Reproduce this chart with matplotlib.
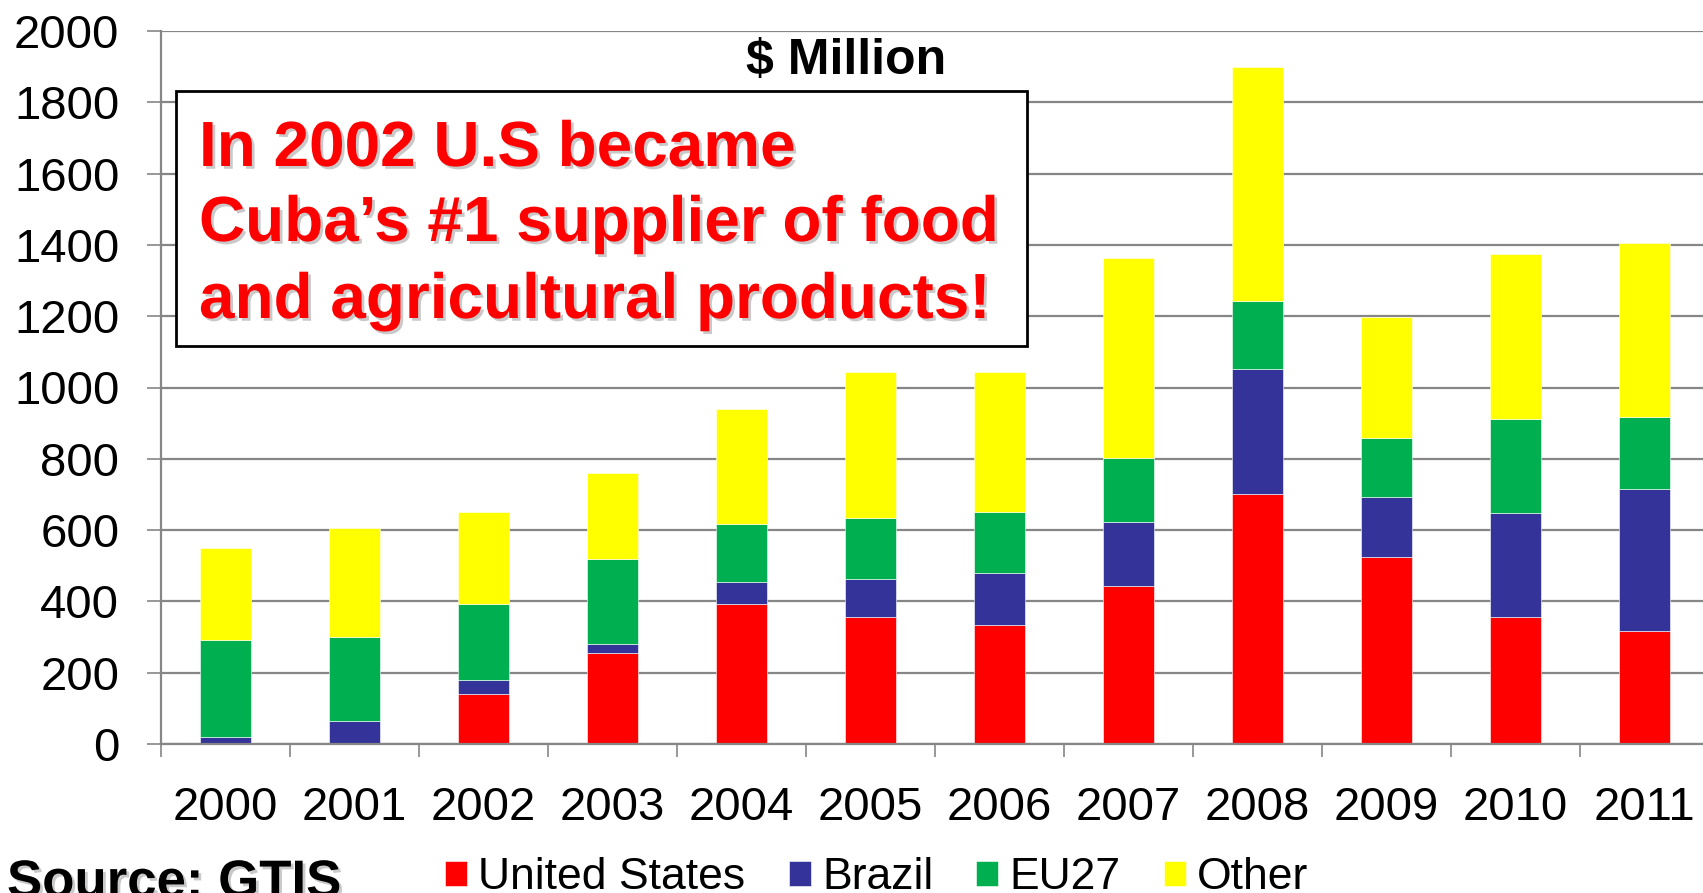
import matplotlib.pyplot as plt
import matplotlib.patheffects as pe
from matplotlib.patches import Rectangle
import numpy as np

plt.rcParams['font.family'] = ['Liberation Sans', 'DejaVu Sans']

years = ['2000', '2001', '2002', '2003', '2004', '2005',
         '2006', '2007', '2008', '2009', '2010', '2011']
united_states = [0, 0, 140, 255, 393, 355, 333, 442, 700, 524, 355, 316]
brazil = [20, 64, 39, 26, 61, 109, 147, 180, 351, 170, 294, 399]
eu27 = [273, 235, 213, 237, 163, 169, 170, 181, 191, 164, 264, 202]
other = [258, 307, 258, 241, 323, 410, 393, 559, 657, 340, 461, 488]

series = [('United States', united_states, '#FF0000'),
          ('Brazil', brazil, '#333399'),
          ('EU27', eu27, '#00B050'),
          ('Other', other, '#FFFF00')]

W, H = 1703, 893
grey = '#868686'

fig = plt.figure(figsize=(W / 100, H / 100), dpi=100)
ax = fig.add_axes([161 / W, 149 / H, 1548 / W, 713 / H])

x = np.arange(len(years))
bottom = np.zeros(len(years))
for name, vals, col in series:
    ax.bar(x, vals, 0.4, bottom=bottom, color=col, label=name,
           edgecolor='white', linewidth=0.4)
    bottom += np.array(vals)

ax.set_xlim(-0.5, 11.5)
ax.set_ylim(0, 2000)
ax.set_yticks(range(0, 2001, 200))
ax.set_xticks(x)
ax.set_xticklabels(years)
# category boundary ticks
ax.set_xticks(np.arange(-0.5, 12, 1), minor=True)

ax.yaxis.grid(True, color=grey, linewidth=1.6)
ax.set_axisbelow(True)
for s in ['top', 'right']:
    ax.spines[s].set_visible(False)
for s in ['left', 'bottom']:
    ax.spines[s].set_color(grey)
    ax.spines[s].set_linewidth(1.6)

ax.tick_params(axis='y', length=10, width=1.2, color=grey, labelsize=34, pad=20)
ax.tick_params(axis='x', which='major', length=0, labelsize=34, pad=30)
ax.tick_params(axis='x', which='minor', length=9.5, width=1.2, color=grey)

shadow = [pe.withSimplePatchShadow(offset=(2, -2), shadow_rgbFace='#666666', alpha=0.35)]

# callout box
fig.add_artist(Rectangle((176 / W, (H - 346) / H), (1027 - 176) / W, (346 - 91) / H,
                         transform=fig.transFigure, facecolor='white',
                         edgecolor='black', linewidth=2, zorder=2))
lines = ['In 2002 U.S became',
         'Cuba\u2019s #1 supplier of food',
         'and agricultural products!']
for txt, base in zip(lines, [166, 241, 318]):
    fig.text(199 / W, (H - base) / H, txt, color='#FF0000', fontsize=46,
             fontweight='bold', va='baseline', ha='left', zorder=3,
             path_effects=shadow)

fig.text(846 / W, (H - 74) / H, '$ Million', fontsize=36, fontweight='bold',
         ha='center', va='baseline')

fig.text(7 / W, (H - 858) / H, 'Source: GTIS', fontsize=38, fontweight='bold',
         ha='left', va='top', path_effects=shadow)

fig.legend(loc='upper left', bbox_to_anchor=(445 / W, (H - 857) / H), ncol=4,
           frameon=False, fontsize=32, handlelength=0.5, handleheight=0.5,
           handletextpad=0.25, columnspacing=0.97, borderpad=0, borderaxespad=0)

fig.savefig('out.png', dpi=100)
